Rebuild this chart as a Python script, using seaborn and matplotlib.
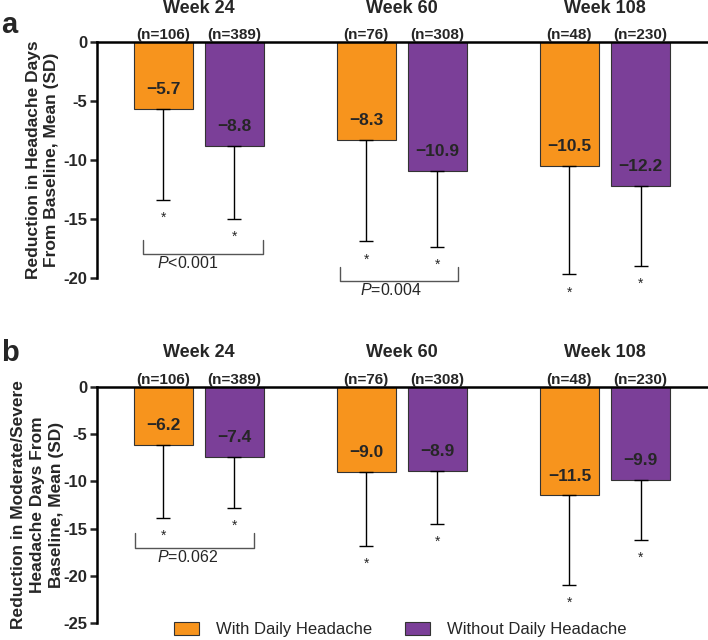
import seaborn as sns
import matplotlib.pyplot as plt
import pandas as pd
from matplotlib.patches import Patch

# ---- data ----
weeks = ["Week 24", "Week 60", "Week 108"]
groups = ["With Daily Headache", "Without Daily Headache"]
n_with = [106, 76, 48]
n_without = [389, 308, 230]

# panel a: headache days
a_mean_with = [-5.7, -8.3, -10.5]
a_mean_without = [-8.8, -10.9, -12.2]
a_sd_with = [7.7, 8.6, 9.2]
a_sd_without = [6.2, 6.5, 6.8]

# panel b: moderate/severe headache days
b_mean_with = [-6.2, -9.0, -11.5]
b_mean_without = [-7.4, -8.9, -9.9]
b_sd_with = [7.7, 7.8, 9.4]
b_sd_without = [5.4, 5.6, 6.3]

# between-group comparisons:
# (week index, p text, bracket top, bracket bottom, left pad, right pad)
a_pvals = [(0, "<0.001", -16.8, -18.0, 0.10, 0.14),
           (1, "=0.004", -19.1, -20.25, 0.13, 0.10)]
b_pvals = [(0, "=0.062", -15.5, -17.0, 0.14, 0.10)]

colors = ["#F7941D", "#7B3F98"]

sns.set_style("white")
plt.rcParams["font.family"] = ["Liberation Sans", "DejaVu Sans"]
plt.rcParams["axes.unicode_minus"] = False
plt.rcParams["mathtext.fontset"] = "custom"
plt.rcParams["mathtext.rm"] = "Liberation Sans"
plt.rcParams["mathtext.it"] = "Liberation Sans:italic"

fig = plt.figure(figsize=(7.08, 6.4), dpi=100)
ax_a = fig.add_axes([0.137, 0.566, 0.861, 0.368])
ax_b = fig.add_axes([0.137, 0.026, 0.861, 0.370])


def make_df(m_with, m_without, sd_with, sd_without):
    rows = []
    for i, w in enumerate(weeks):
        rows.append({"week": w, "group": groups[0], "mean": m_with[i], "sd": sd_with[i]})
        rows.append({"week": w, "group": groups[1], "mean": m_without[i], "sd": sd_without[i]})
    return pd.DataFrame(rows)


def draw_panel(ax, df, ymin, pvals, ylabel, letter, label_x, letter_y, lsp):
    sns.barplot(data=df, x="week", y="mean", hue="group", order=weeks,
                hue_order=groups, palette=colors, saturation=1, width=0.7, gap=0.17,
                edgecolor="#333333", linewidth=0.8, errorbar=None,
                legend=False, ax=ax)
    ns = [n_with, n_without]
    centers = {}
    bar_conts = list(ax.containers)
    for gi, cont in enumerate(bar_conts):
        sub = df[df["group"] == groups[gi]].set_index("week").loc[weeks]
        for wi, bar in enumerate(cont):
            x = bar.get_x() + bar.get_width() / 2
            centers[(gi, wi)] = x
            m = sub["mean"].iloc[wi]
            sd = sub["sd"].iloc[wi]
            ax.errorbar([x], [m], yerr=[[sd], [0]], fmt="none", ecolor="black",
                        elinewidth=1.0, capsize=4.8, capthick=1.0, zorder=3)
            ax.annotate("*", xy=(x, m - sd), xytext=(0, -13), textcoords="offset points",
                        ha="center", va="center", fontsize=10, annotation_clip=False)
            ax.annotate("\u2212%.1f" % abs(m), xy=(x, m), xytext=(0, 14),
                        textcoords="offset points", ha="center", va="center",
                        fontsize=12.5, fontweight="bold")
            ax.annotate("(n=%d)" % ns[gi][wi], xy=(x, 1), xycoords=("data", "axes fraction"),
                        xytext=(0, 5), textcoords="offset points", ha="center",
                        va="center", fontsize=11, fontweight="bold",
                        annotation_clip=False)
    for wi, w in enumerate(weeks):
        ax.annotate(w, xy=(wi, 1), xycoords=("data", "axes fraction"),
                    xytext=(0, 24.5), textcoords="offset points", ha="center",
                    va="center", fontsize=13, fontweight="bold", annotation_clip=False)
    for wi, ptxt, ytop, ybot, lpad, rpad in pvals:
        x0 = centers[(0, wi)] - lpad
        x1 = centers[(1, wi)] + rpad
        ax.plot([x0, x0, x1, x1], [ytop, ybot, ybot, ytop], color="#555555",
                lw=1.0, clip_on=False)
        ax.text(centers[(0, wi)] + 0.12, ybot - 0.1, "$\\mathit{P}$" + ptxt,
                ha="center", va="top", fontsize=11.5, clip_on=False)

    ax.set_xlim(-0.5, 2.5)
    ax.set_ylim(ymin, 0)
    ax.set_yticks(range(0, ymin - 1, -5))
    ax.set_xticks([])
    ax.set_xlabel("")
    ax.set_ylabel(ylabel, fontsize=12.5, fontweight="bold", linespacing=lsp)
    ax.yaxis.set_label_coords(label_x, 0.5)
    for s in ["right", "bottom"]:
        ax.spines[s].set_visible(False)
    for s in ["left", "top"]:
        ax.spines[s].set_linewidth(1.8)
        ax.spines[s].set_color("black")
    ax.spines["left"].set_bounds(ymin, 0)
    ax.tick_params(axis="y", direction="out", length=5, width=1.8, left=True,
                   labelsize=12, pad=2)
    for t in ax.get_yticklabels():
        t.set_fontweight("bold")
    ax.text(-0.157, letter_y, letter, transform=ax.transAxes, fontsize=21,
            fontweight="bold", ha="left", va="center")


draw_panel(ax_a, make_df(a_mean_with, a_mean_without, a_sd_with, a_sd_without),
           -20, a_pvals, "Reduction in Headache Days\nFrom Baseline, Mean (SD)",
           "a", -0.062, 1.075, 1.25)
draw_panel(ax_b, make_df(b_mean_with, b_mean_without, b_sd_with, b_sd_without),
           -25, b_pvals,
           "Reduction in Moderate/Severe\nHeadache Days From\nBaseline, Mean (SD)",
           "b", -0.054, 1.14, 1.35)

handles = [Patch(facecolor=colors[i], edgecolor="#333333", linewidth=0.8, label=groups[i])
           for i in range(2)]
fig.legend(handles=handles, loc="center", bbox_to_anchor=(0.565, 0.016), ncol=2,
           frameon=False, fontsize=12, handlelength=1.5, handleheight=0.75,
           handletextpad=1.0, columnspacing=2.0, borderaxespad=0)

fig.savefig("out.png", dpi=100)
